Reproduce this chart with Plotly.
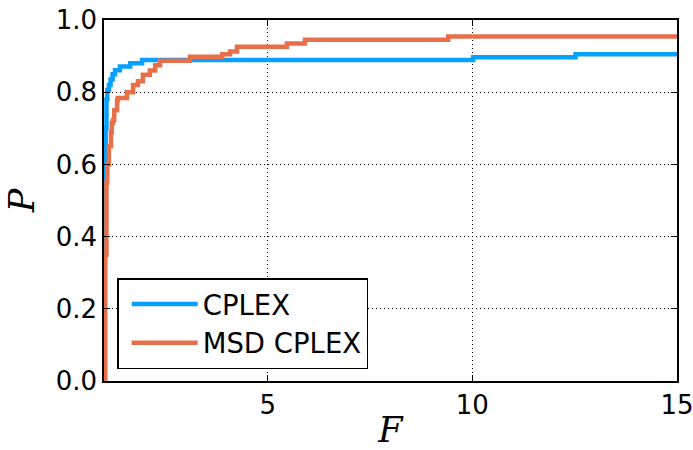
import plotly.graph_objects as go

# CPLEX performance profile (F, P)
cplex_f = [1.0, 1.02, 1.04, 1.06, 1.08, 1.12, 1.16, 1.21, 1.27, 1.39, 1.64, 1.93, 10.02, 12.52, 15.0]
cplex_p = [0.0, 0.55, 0.70, 0.78, 0.806, 0.82, 0.835, 0.85, 0.861, 0.871, 0.880, 0.889, 0.897, 0.905, 0.905]

# MSD CPLEX performance profile (F, P)
msd_f = [1.0, 1.03, 1.06, 1.08, 1.12, 1.17, 1.19, 1.22, 1.25, 1.32, 1.34, 1.56, 1.71, 1.83,
         1.95, 2.12, 2.25, 2.37, 3.10, 3.89, 4.08, 4.25, 5.47, 5.91, 9.41, 15.0]
msd_p = [0.0, 0.35, 0.55, 0.60, 0.65, 0.69, 0.715, 0.723, 0.75, 0.778, 0.784, 0.80, 0.82, 0.83,
         0.848, 0.86, 0.875, 0.887, 0.898, 0.905, 0.913, 0.926, 0.935, 0.945, 0.954, 0.954]

x_ticks = [5, 10, 15]
y_ticks = [0.0, 0.2, 0.4, 0.6, 0.8, 1.0]

fig = go.Figure()
fig.add_trace(go.Scatter(x=cplex_f, y=cplex_p, mode="lines", name="CPLEX",
                         line=dict(color="#06a0ff", width=4.5, shape="hv")))
fig.add_trace(go.Scatter(x=msd_f, y=msd_p, mode="lines", name="MSD CPLEX",
                         line=dict(color="#e7704a", width=4.5, shape="hv")))

axis_common = dict(showline=True, linecolor="black", linewidth=1.5, mirror="ticks",
                   ticks="inside", ticklen=6, tickwidth=1, tickcolor="black",
                   showgrid=True, gridcolor="black", gridwidth=1, griddash="1px,3px",
                   zeroline=False, automargin=False, ticklabeloverflow="allow",
                   tickfont=dict(family="DejaVu Sans", size=26, color="black"))

fig.update_xaxes(range=[1, 15], tickvals=x_ticks, ticktext=[str(v) for v in x_ticks],
                 title=dict(text="<i>F</i>", font=dict(family="DejaVu Serif", size=35, color="black"), standoff=10),
                 **axis_common)
fig.update_yaxes(range=[0, 1], tickvals=y_ticks, ticktext=[f"{v:.1f}" for v in y_ticks],
                 title=dict(text="<i>P</i>", font=dict(family="DejaVu Serif", size=35, color="black"), standoff=10),
                 **axis_common)

fig.update_layout(
    width=693, height=450,
    margin=dict(l=104, r=16, t=20, b=69),
    paper_bgcolor="white", plot_bgcolor="white",
    legend=dict(x=0.023, y=0.285, xanchor="left", yanchor="top",
                bordercolor="black", borderwidth=1.5, bgcolor="white",
                itemwidth=66, indentation=8,
                font=dict(family="DejaVu Sans", size=27.5, color="black")),
    showlegend=True,
)

fig.write_html("out.html", config={"displayModeBar": False},
               post_script="document.body.style.margin='0';document.body.style.overflow='hidden';")
